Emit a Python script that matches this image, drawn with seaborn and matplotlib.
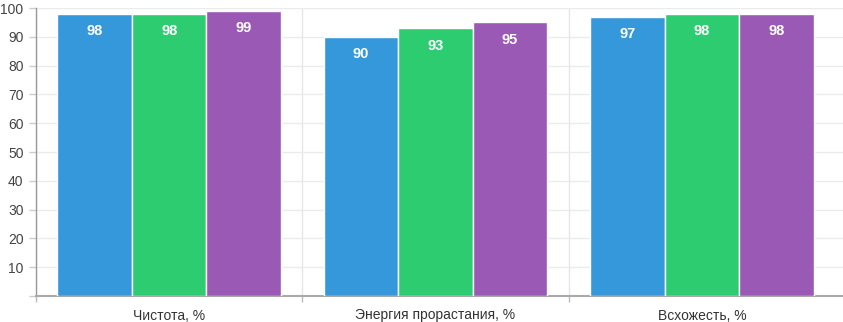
import matplotlib
matplotlib.use("Agg")
import matplotlib.pyplot as plt
import seaborn as sns
import pandas as pd
from matplotlib.ticker import FixedLocator

categories = ["Чистота, %", "Энергия прорастания, %", "Всхожесть, %"]
series_names = ["Серия 1", "Серия 2", "Серия 3"]
series1 = [98, 90, 97]
series2 = [98, 93, 98]
series3 = [99, 95, 98]
colors = ["#3498db", "#2ecc71", "#9b59b6"]
y_ticks = [0, 10, 20, 30, 40, 50, 60, 70, 80, 90, 100]
y_tick_labels = ["", "10", "20", "30", "40", "50", "60", "70", "80", "90", "100"]

rows = []
for name, vals in zip(series_names, [series1, series2, series3]):
    for c, v in zip(categories, vals):
        rows.append({"category": c, "series": name, "value": v})
df = pd.DataFrame(rows)

sns.set_theme(style="white")
plt.rcParams["font.family"] = ["Liberation Sans Narrow", "Liberation Sans", "DejaVu Sans"]

W, H = 843, 322
fig = plt.figure(figsize=(W / 100, H / 100), dpi=100)
ax = fig.add_axes([36 / W, (H - 296) / H, (W - 36) / W, 288 / H])

sns.barplot(data=df, x="category", y="value", hue="series", palette=colors,
            width=0.84, dodge=True, ax=ax, legend=False, saturation=1,
            edgecolor="white", linewidth=1, zorder=3)

ax.set_ylim(0, 100)
ax.set_xlim(-0.5, 2.53)
ax.set_yticks(y_ticks)
ax.set_yticklabels(y_tick_labels)
ax.set_xlabel("")
ax.set_ylabel("")

ax.yaxis.grid(True, color="#ebebeb", linewidth=1, zorder=0)
ax.xaxis.set_minor_locator(FixedLocator([-0.5, 0.5, 1.5]))
ax.xaxis.grid(True, which="minor", color="#e6e6e6", linewidth=1, zorder=0)
ax.set_axisbelow(True)

ax.tick_params(axis="y", which="major", length=5, width=1, color="#cccccc",
               pad=4, labelsize=10, labelcolor="#444444", left=True)
ax.tick_params(axis="x", which="major", length=0, pad=9, labelsize=10, labelcolor="#333333")
ax.tick_params(axis="x", which="minor", length=4, width=1, color="#bbbbbb", bottom=True)

for s in ["top", "right"]:
    ax.spines[s].set_visible(False)
ax.spines["left"].set_color("#999999")
ax.spines["left"].set_linewidth(1)
ax.spines["bottom"].set_color("#aaaaaa")
ax.spines["bottom"].set_linewidth(1.5)

for cont in ax.containers:
    for bar in cont:
        h = bar.get_height()
        ax.annotate(f"{h:.0f}", (bar.get_x() + bar.get_width() / 2, h),
                    xytext=(0, -7.5), textcoords="offset points",
                    ha="center", va="top", color="white", fontsize=10.5,
                    fontweight="bold", zorder=5)

fig.savefig("out.png", dpi=100)
